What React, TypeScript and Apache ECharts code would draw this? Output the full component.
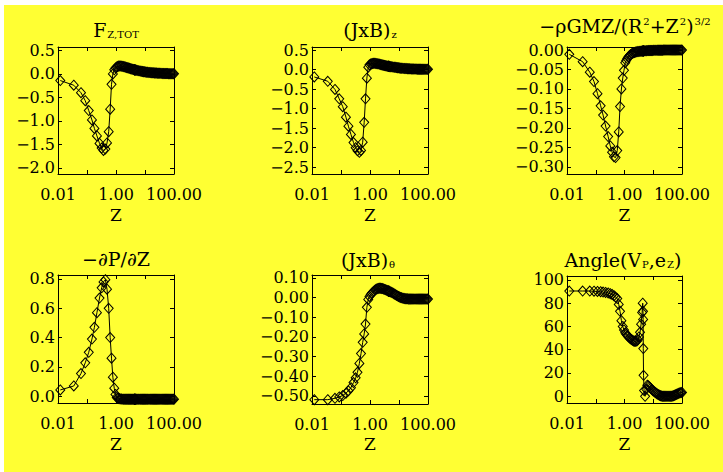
import React, { useEffect, useRef } from "react";
import * as echarts from "echarts";

// ---- data ----
const zValues = [
  0.012, 0.035, 0.062, 0.087, 0.115, 0.148, 0.18, 0.22, 0.27, 0.32,
  0.37, 0.43, 0.49, 0.56, 0.63, 0.7, 0.78, 0.87, 0.96,
  1.06, 1.15, 1.25, 1.36, 1.48, 1.6, 1.75, 1.9, 2.07, 2.25,
  2.45, 2.68, 2.92, 3.18, 3.47, 3.78, 4.1, 4.3, 4.4, 4.45,
  4.5, 4.6, 4.8, 5.2, 5.7, 6.2, 6.8, 7.4, 8.1, 8.8,
  9.6, 10.5, 11.5, 12.5, 13.7, 15, 16.3, 17.8, 19.4, 21.2,
  23.1, 25.2, 27.5, 30, 32.7, 35.7, 39, 42.5, 46.4, 50.6,
  55.2, 60.2, 65.7, 71.7, 78.2, 85.3, 93, 100,
];

const fzTot = [
  -0.14, -0.24, -0.4, -0.57, -0.78, -0.98, -1.16, -1.32, -1.48, -1.58,
  -1.63, -1.6, -1.47, -1.23, -0.75, -0.22, 0.0, 0.09, 0.13,
  0.15, 0.16, 0.17, 0.17, 0.17, 0.165, 0.16, 0.155, 0.15, 0.14,
  0.135, 0.128, 0.12, 0.113, 0.106, 0.1, 0.094, 0.09, 0.088, 0.087,
  0.086, 0.085, 0.082, 0.078, 0.073, 0.068, 0.063, 0.058, 0.053, 0.049,
  0.045, 0.041, 0.038, 0.035, 0.032, 0.03, 0.028, 0.026, 0.024, 0.022,
  0.02, 0.019, 0.017, 0.016, 0.015, 0.013, 0.012, 0.011, 0.01, 0.009,
  0.008, 0.008, 0.007, 0.006, 0.006, 0.005, 0.005, 0.005,
];

const jxbZ = [
  -0.19, -0.3, -0.51, -0.75, -0.95, -1.22, -1.45, -1.66, -1.87, -2.0,
  -2.08, -2.12, -2.07, -1.86, -1.35, -0.75, -0.22, 0.06, 0.12,
  0.14, 0.15, 0.155, 0.16, 0.16, 0.155, 0.15, 0.145, 0.14, 0.13,
  0.125, 0.118, 0.11, 0.104, 0.098, 0.092, 0.087, 0.084, 0.083, 0.082,
  0.081, 0.08, 0.078, 0.074, 0.069, 0.065, 0.06, 0.056, 0.051, 0.047,
  0.043, 0.04, 0.036, 0.033, 0.031, 0.028, 0.026, 0.024, 0.022, 0.02,
  0.019, 0.017, 0.016, 0.015, 0.013, 0.012, 0.011, 0.01, 0.009, 0.008,
  0.008, 0.007, 0.007, 0.006, 0.006, 0.005, 0.005, 0.005,
];

const gravZ = [
  -0.011, -0.03, -0.057, -0.081, -0.112, -0.143, -0.167, -0.195, -0.222, -0.246,
  -0.262, -0.274, -0.276, -0.258, -0.21, -0.145, -0.1, -0.072, -0.052,
  -0.033, -0.027, -0.022, -0.018, -0.015, -0.012, -0.01, -0.0085, -0.0072, -0.0062,
  -0.0054, -0.0047, -0.0041, -0.0036, -0.0032, -0.0029, -0.0026, -0.0025, -0.0024, -0.0024,
  -0.0024, -0.0023, -0.0022, -0.002, -0.0018, -0.0016, -0.0014, -0.0013, -0.0012, -0.0011,
  -0.001, -0.0009, -0.0008, -0.0007, -0.0006, -0.0006, -0.0005, -0.0005, -0.0004, -0.0004,
  -0.0003, -0.0003, -0.0003, -0.0003, -0.0002, -0.0002, -0.0002, -0.0002, -0.0001, -0.0001,
  -0.0001, -0.0001, -0.0001, -0.0001, -0.0001, -0.0001, -0.0001, -0.0001,
];

const dPdZ = [
  0.043, 0.07, 0.155, 0.228, 0.3, 0.39, 0.47, 0.57, 0.67, 0.74,
  0.78, 0.795, 0.73, 0.6, 0.4, 0.26, 0.13, 0.055, 0.012,
  -0.008, -0.012, -0.015, -0.017, -0.018, -0.019, -0.02, -0.02, -0.02, -0.02,
  -0.02, -0.02, -0.02, -0.02, -0.02, -0.02, -0.02, -0.02, -0.02, -0.02,
  -0.02, -0.02, -0.02, -0.02, -0.02, -0.02, -0.02, -0.02, -0.02, -0.02,
  -0.02, -0.02, -0.02, -0.02, -0.02, -0.02, -0.02, -0.02, -0.02, -0.02,
  -0.02, -0.02, -0.02, -0.02, -0.02, -0.02, -0.02, -0.02, -0.02, -0.02,
  -0.02, -0.02, -0.02, -0.02, -0.02, -0.02, -0.02, -0.02,
];

const jxbTheta = [
  -0.519, -0.519, -0.512, -0.505, -0.498, -0.486, -0.474, -0.458, -0.432, -0.408,
  -0.38, -0.335, -0.285, -0.228, -0.185, -0.135, -0.05, -0.01, 0.005,
  0.015, 0.021, 0.027, 0.032, 0.037, 0.041, 0.044, 0.046, 0.047, 0.047,
  0.046, 0.045, 0.043, 0.041, 0.039, 0.037, 0.034, 0.033, 0.032, 0.032,
  0.031, 0.031, 0.03, 0.028, 0.025, 0.022, 0.018, 0.015, 0.011, 0.008,
  0.005, 0.002, 0.0, -0.002, -0.004, -0.005, -0.006, -0.007, -0.007, -0.008,
  -0.008, -0.008, -0.008, -0.008, -0.008, -0.008, -0.008, -0.008, -0.008, -0.008,
  -0.008, -0.008, -0.008, -0.008, -0.008, -0.008, -0.008, -0.008,
];

const angleVpEz = [
  90.5, 90.5, 90.5, 90.3, 90.1, 89.9, 89.6, 89.3, 88.8, 88.2,
  87.5, 86.5, 85.3, 84, 79, 73, 65, 60, 57,
  54.5, 53.3, 52.2, 51.2, 50.3, 49.5, 48.7, 48.1, 47.6, 47.3,
  47.2, 47.5, 48.5, 51, 55, 62, 72, 80, 73, 66,
  41, 18, 5, 0, 6, 9.5, 9, 8, 7, 6,
  5, 4.2, 3.4, 2.7, 2, 1.4, 0.9, 0.5, 0.2, 0,
  0, 0, 0, 0, 0, 0, 0, 0, 0.2, 0.5,
  0.9, 1.3, 1.8, 2.2, 2.6, 3, 3.2, 3.3,
];

// tick labels
const yTicksFz = [0.5, 0, -0.5, -1, -1.5, -2];
const yTicksJz = [0.5, 0, -0.5, -1, -1.5, -2, -2.5];
const yTicksGrav = [0, -0.05, -0.1, -0.15, -0.2, -0.25, -0.3];
const yTicksDp = [0, 0.2, 0.4, 0.6, 0.8];
const yTicksJt = [0.1, 0, -0.1, -0.2, -0.3, -0.4, -0.5];
const yTicksAng = [0, 20, 40, 60, 80, 100];

const titles = [
  "{m|F}{s|Z,TOT}",
  "{m|(JxB)}{s|z}",
  "{m|\u2212\u03C1GMZ/(R}{p|2}{m|+Z}{p|2}{m|)}{p|3/2}",
  "{m|\u2212\u2202P/\u2202Z}",
  "{m|(JxB)}{s|\u03B8}",
  "{m|Angle(V}{s|P}{m|,e}{s|Z}{m|)}",
];

// ---- layout / style ----
const FONT = "DejaVu Serif";
const panelSeries = [fzTot, jxbZ, gravZ, dPdZ, jxbTheta, angleVpEz];
const panelTicks = [yTicksFz, yTicksJz, yTicksGrav, yTicksDp, yTicksJt, yTicksAng];
const panelDigits = [1, 1, 2, 1, 2, 0];
const panelRange = [
  [-2.132, 0.575],
  [-2.674, 0.577],
  [-0.318, 0.0077],
  [-0.046, 0.827],
  [-0.541, 0.114],
  [-5.8, 103.4],
];
const gridRects = [
  [58, 47, 116, 127],
  [312, 47, 116, 127],
  [567, 47, 115, 127],
  [58, 275, 116, 128],
  [312, 275, 116, 129],
  [567, 276, 115, 127],
];
const titlePos = [
  [116, 30],
  [370, 30],
  [625, 26],
  [116, 259],
  [368, 260],
  [623, 260],
];
const zLabelY = [215, 215, 215, 444, 444, 444];

function fmt(v: number, d: number) {
  const s = Math.abs(v).toFixed(d);
  return (v < -1e-12 ? "\u2212" : "") + s;
}

function buildOption() {
  const grid: any[] = [];
  const xAxis: any[] = [];
  const yAxis: any[] = [];
  const series: any[] = [];
  const graphic: any[] = [
    {
      type: "rect",
      z: -10,
      silent: true,
      shape: { x: 4, y: 5, width: 719, height: 467 },
      style: { fill: "#ffff33" },
    },
  ];
  const black = { color: "#000", width: 1 };

  for (let i = 0; i < 6; i++) {
    const [l, t, w, h] = gridRects[i];
    grid.push({ left: l, top: t, width: w, height: h, show: false, outerBoundsMode: "none" });
    const logBase = {
      type: "log",
      logBase: 10,
      gridIndex: i,
      min: 0.01,
      max: 100,
      splitNumber: 4,
      splitLine: { show: false },
      axisLine: { show: true, onZero: false, lineStyle: black },
      axisTick: { show: true, inside: true, length: 4, lineStyle: black },
      minorTick: { show: false },
    };
    xAxis.push({
      ...logBase,
      position: "bottom",
      axisLabel: {
        show: true,
        margin: 12,
        color: "#000",
        fontFamily: FONT,
        fontSize: 16,
        formatter: (v: number) => {
          const e = Math.round(Math.log10(v));
          return e % 2 === 0 ? Math.pow(10, e).toFixed(2) : "";
        },
      },
    });
    xAxis.push({ ...logBase, position: "top", axisLabel: { show: false } });

    const [mn, mx] = panelRange[i];
    const ticks = panelTicks[i];
    const d = panelDigits[i];
    const yBase = {
      type: "value",
      gridIndex: i,
      min: mn,
      max: mx,
      scale: true,
      splitLine: { show: false },
      axisLine: { show: true, onZero: false, lineStyle: black },
      axisTick: { show: true, inside: true, length: 4, lineStyle: black, customValues: ticks },
    };
    yAxis.push({
      ...yBase,
      position: "left",
      axisLabel: {
        show: true,
        customValues: ticks,
        margin: 3,
        padding: [6, 0, 0, 0],
        color: "#000",
        fontFamily: FONT,
        fontSize: 16,
        formatter: (v: number) => fmt(v, d),
      },
    });
    yAxis.push({ ...yBase, position: "right", axisLabel: { show: false } });

    const vals = panelSeries[i];
    series.push({
      type: "line",
      xAxisIndex: 2 * i,
      yAxisIndex: 2 * i,
      data: zValues.map((z, k) => [z, vals[k]]),
      symbol: "diamond",
      symbolSize: [9, 10],
      showSymbol: true,
      clip: true,
      silent: true,
      lineStyle: { color: "#000", width: 1 },
      itemStyle: { color: "transparent", borderColor: "#000", borderWidth: 1 },
      emphasis: { disabled: true },
    });

    const [tx, ty] = titlePos[i];
    graphic.push({
      type: "text",
      x: tx,
      y: ty,
      silent: true,
      style: {
        text: titles[i],
        align: "center",
        verticalAlign: "middle",
        fill: "#000",
        rich: {
          m: { fontFamily: FONT, fontSize: 19, fill: "#000", color: "#000" },
          s: { fontFamily: FONT, fontSize: 10, padding: [9, 0, 0, 1], fill: "#000", color: "#000" },
          p: { fontFamily: FONT, fontSize: 10, padding: [0, 0, 9, 1], fill: "#000", color: "#000" },
        },
      },
    });
    graphic.push({
      type: "text",
      x: l + w / 2,
      y: zLabelY[i],
      silent: true,
      style: {
        text: "Z",
        align: "center",
        verticalAlign: "middle",
        fill: "#000",
        font: `17px "${FONT}"`,
      },
    });
  }

  return {
    animation: false,
    backgroundColor: "#ffffff",
    textStyle: { fontFamily: FONT },
    grid,
    xAxis,
    yAxis,
    series,
    graphic,
  };
}

export default function App() {
  const ref = useRef<HTMLDivElement>(null);
  useEffect(() => {
    const chart = echarts.init(ref.current as HTMLDivElement, undefined, { renderer: "svg" });
    chart.setOption(buildOption() as any);
    return () => chart.dispose();
  }, []);
  return (
    <div
      ref={ref}
      style={{ position: "absolute", left: 0, top: 0, width: 723, height: 472 }}
    />
  );
}
